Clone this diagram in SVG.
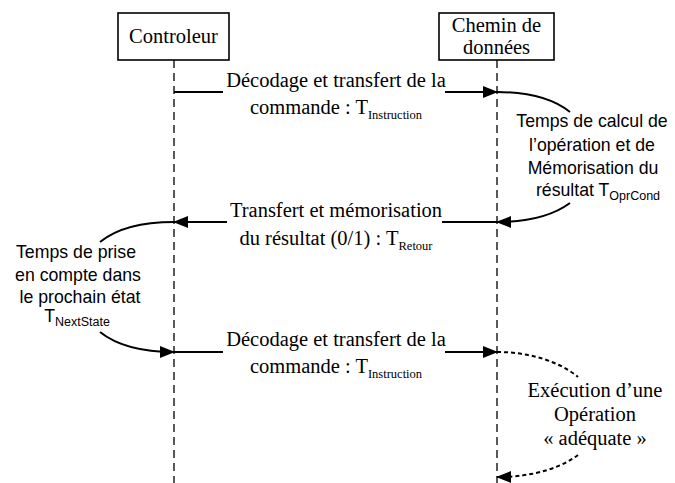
<svg xmlns="http://www.w3.org/2000/svg" width="675" height="483" viewBox="0 0 675 483">
  <style>
    .box { fill: #fff; stroke: #000; stroke-width: 1.6; }
    .life { stroke: #000; stroke-width: 1.3; stroke-dasharray: 8 5; fill: none; }
    .msg { stroke: #000; stroke-width: 2; fill: none; }
    .dash { stroke: #000; stroke-width: 2; fill: none; stroke-dasharray: 4 3; }
    .serif { font-family: "Liberation Serif", "Times New Roman", serif; font-size: 20.5px; fill: #000; }
    .sans { font-family: "Liberation Sans", Arial, sans-serif; font-size: 17.7px; fill: #000; }
    .sub { font-size: 12.5px; }
    .subs { font-size: 12.5px; }
  </style>
  <defs>
    <marker id="arrow" markerWidth="15" markerHeight="12" refX="14" refY="6" orient="auto" markerUnits="userSpaceOnUse">
      <path d="M0,0 L15,6 L0,12 Z" fill="#000"/>
    </marker>
  </defs>
  <rect width="675" height="483" fill="#fff"/>

  <!-- lifelines -->
  <g id="lifelines">
    <line class="life" x1="174" y1="60" x2="174" y2="483"/>
    <line class="life" x1="497" y1="60" x2="497" y2="483"/>
  </g>

  <g id="controleur">
    <rect class="box" x="118" y="13" width="111" height="47"/>
    <text class="serif" x="173.5" y="43" text-anchor="middle">Controleur</text>
  </g>

  <g id="chemin">
    <rect class="box" x="439" y="13" width="115" height="47"/>
    <text class="serif" x="496.5" y="32" text-anchor="middle">Chemin de</text>
    <text class="serif" x="496.5" y="54" text-anchor="middle">données</text>
  </g>

  <g id="connectors">
    <!-- instruction 1 -->
    <path class="msg" d="M174,92 H223 M445,92 H497" marker-end="url(#arrow)"/>
    <!-- computation on the data path -->
    <path class="msg" d="M497,92 C530,92 555,100 570,112"/>
    <path class="msg" d="M570,203 C555,214 530,222 497,222" marker-end="url(#arrow)"/>
    <!-- return -->
    <path class="msg" d="M497,222 H442 M227,222 H174" marker-end="url(#arrow)"/>
    <!-- next state -->
    <path class="msg" d="M174,222 C140,222 116,229 100,242"/>
    <path class="msg" d="M100,332 C115,344 140,352 174,352" marker-end="url(#arrow)"/>
    <!-- instruction 2 -->
    <path class="msg" d="M174,352 H223 M445,352 H497" marker-end="url(#arrow)"/>
    <!-- adequate operation -->
    <path class="dash" d="M497,352 C530,352 560,362 578,377"/>
    <path class="dash" d="M578,455 C562,467 535,477 497,477" marker-end="url(#arrow)"/>
  </g>

  <g id="labels">
    <text class="serif" x="336" y="87" text-anchor="middle">Décodage et transfert de la</text>
    <text class="serif" x="336" y="114" text-anchor="middle">commande : T<tspan class="sub" dy="5">Instruction</tspan></text>

    <text class="sans" x="592" y="127" text-anchor="middle">Temps de calcul de</text>
    <text class="sans" x="592" y="151" text-anchor="middle">l’opération et de</text>
    <text class="sans" x="593" y="174" text-anchor="middle">Mémorisation du</text>
    <text class="sans" x="598" y="196" text-anchor="middle">résultat T<tspan class="subs" dy="4">OprCond</tspan></text>

    <text class="serif" x="336" y="217" text-anchor="middle">Transfert et mémorisation</text>
    <text class="serif" x="336" y="245" text-anchor="middle">du résultat (0/1) : T<tspan class="sub" dy="5">Retour</tspan></text>

    <text class="sans" x="76" y="258" text-anchor="middle">Temps de prise</text>
    <text class="sans" x="78" y="281" text-anchor="middle">en compte dans</text>
    <text class="sans" x="80" y="303" text-anchor="middle">le prochain état</text>
    <text class="sans" x="77" y="322" text-anchor="middle">T<tspan class="subs" dy="4">NextState</tspan></text>

    <text class="serif" x="336" y="346" text-anchor="middle">Décodage et transfert de la</text>
    <text class="serif" x="336" y="373" text-anchor="middle">commande : T<tspan class="sub" dy="5">Instruction</tspan></text>

    <text class="serif" x="595" y="397" text-anchor="middle">Exécution d’une</text>
    <text class="serif" x="595" y="421" text-anchor="middle">Opération</text>
    <text class="serif" x="595" y="445" text-anchor="middle">« adéquate »</text>
  </g>
</svg>
